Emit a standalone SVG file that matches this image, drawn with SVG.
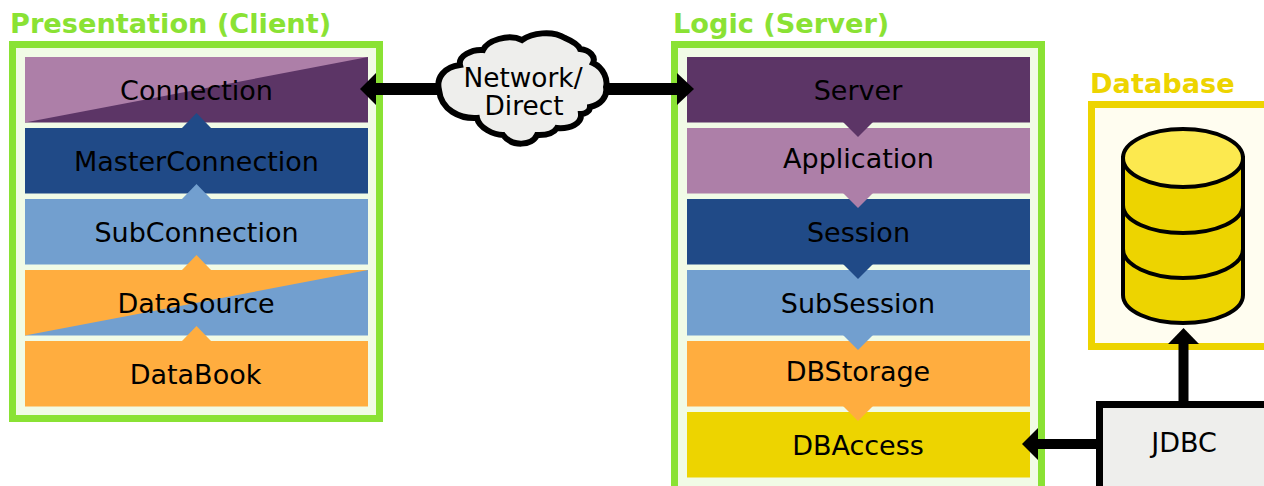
<svg xmlns="http://www.w3.org/2000/svg" width="1264" height="486" viewBox="0 0 1264 486">
<defs>
<style>
text{font-family:"DejaVu Sans",sans-serif;text-anchor:middle;fill:#000}
.lbl{font-size:27px}
.cld{font-size:26.400px}
.ttl{font-size:27.200px;font-weight:bold;text-anchor:start}
.g{fill:#f1fbe6;stroke:#8ae234;stroke-width:7}
.line{fill:none;stroke:#000;stroke-width:10}
.wide{stroke-width:12}
.head{fill:#000;stroke:none}
.pur{fill:#5c3566}.lil{fill:#ad7fa8}.nav{fill:#204a87}.blu{fill:#729fcf}.ora{fill:#ffad3f}.yel{fill:#edd400}
</style>
</defs>
<g id="presentation">
<rect class="g" x="12.500" y="44.500" width="367" height="374"/>
<text class="ttl" x="10" y="33" style="fill:#8ae234">Presentation (Client)</text>
</g>
<g id="connection">
<rect class="pur" x="25" y="57" width="343" height="65.500"/>
<polygon class="lil" points="25,122.500 25,57 368,57"/>
<polygon class="nav" points="182,128 196.500,113 211,128"/>
<text class="lbl" x="196.500" y="100">Connection</text>
</g>
<g id="masterconnection">
<rect class="nav" x="25" y="128" width="343" height="65.500"/>
<polygon class="blu" points="182,199 196.500,184 211,199"/>
<text class="lbl" x="196.500" y="171">MasterConnection</text>
</g>
<g id="subconnection">
<rect class="blu" x="25" y="199" width="343" height="65.500"/>
<polygon class="ora" points="182,270 196.500,255 211,270"/>
<text class="lbl" x="196.500" y="242">SubConnection</text>
</g>
<g id="datasource">
<rect class="blu" x="25" y="270" width="343" height="65.500"/>
<polygon class="ora" points="25,335.500 25,270 368,270"/>
<polygon class="ora" points="182,341 196.500,326 211,341"/>
<text class="lbl" x="196" y="313">DataSource</text>
</g>
<g id="databook">
<rect class="ora" x="25" y="341" width="343" height="65.500"/>
<text class="lbl" x="195.500" y="384">DataBook</text>
</g>
<g id="logic">
<rect class="g" x="674.500" y="44.500" width="367" height="460"/>
<text class="ttl" x="673" y="33" style="fill:#8ae234">Logic (Server)</text>
</g>
<g id="server">
<rect class="pur" x="687" y="57" width="343" height="65.500"/>
<text class="lbl" x="858" y="100">Server</text>
</g>
<g id="application">
<rect class="lil" x="687" y="128" width="343" height="65.500"/>
<polygon class="pur" points="843,122 858,137 873,122"/>
<text class="lbl" x="858.500" y="168">Application</text>
</g>
<g id="session">
<rect class="nav" x="687" y="199" width="343" height="65.500"/>
<polygon class="lil" points="843,193 858,208 873,193"/>
<text class="lbl" x="858.500" y="242">Session</text>
</g>
<g id="subsession">
<rect class="blu" x="687" y="270" width="343" height="65.500"/>
<polygon class="nav" points="843,264 858,279 873,264"/>
<text class="lbl" x="858" y="313">SubSession</text>
</g>
<g id="dbstorage">
<rect class="ora" x="687" y="341" width="343" height="65.500"/>
<polygon class="blu" points="843,335 858,350 873,335"/>
<text class="lbl" x="858" y="381">DBStorage</text>
</g>
<g id="dbaccess">
<rect class="yel" x="687" y="412" width="343" height="65.500"/>
<polygon class="ora" points="843,406 858,421 873,406"/>
<text class="lbl" x="858" y="455">DBAccess</text>
</g>
<g id="database">
<rect x="1091.500" y="104.500" width="200" height="242" fill="#fffdf0" stroke="#edd400" stroke-width="7"/>
<text class="ttl" x="1090" y="93" style="fill:#edd400">Database</text>
<path d="M1123 158 V295 C1123 311 1150 323 1183 323 C1216 323 1243 311 1243 295 V158 Z" fill="#edd400" stroke="#000" stroke-width="4"/>
<ellipse cx="1183" cy="158" rx="60" ry="29" fill="#fce94f" stroke="#000" stroke-width="4"/>
<path d="M1123 205 C1123 221 1150 233 1183 233 C1216 233 1243 221 1243 205 M1123 249 C1123 265 1150 278 1183 278 C1216 278 1243 265 1243 249" fill="none" stroke="#000" stroke-width="4"/>
</g>
<g id="connectors">
<line class="line wide" x1="375" y1="89" x2="445" y2="89"/>
<polygon class="head" points="360,89 376,73 376,105"/>
<line class="line wide" x1="600" y1="89" x2="680" y2="89"/>
<polygon class="head" points="694,89 677,73 677,105"/>
<line class="line" x1="1183.500" y1="340" x2="1183.500" y2="405"/>
<polygon class="head" points="1183.500,328 1168,344 1199,344"/>
<line class="line" x1="1036" y1="444" x2="1100" y2="444"/>
<polygon class="head" points="1022,444 1038,428 1038,460"/>
</g>
<g id="network">
<path d="M439 90 C436 78 444 67 460 65 C458 56 472 49 483 50 C487 41 508 33 522 40 C532 33 552 30 565 38 C572 41 578 44 580 49 C590 50 596 57 593 63 C604 68 608 80 606 87 C608 97 600 105 590 107 C590 112 584 114 581 114 C582 124 570 129 557 128 C552 136 541 135 537 135 C532 146 512 147 503 135 C494 135 479 128 477 118 C460 119 441 110 439 90 Z" fill="#eeeeec" stroke="#000" stroke-width="6"/>
<text class="cld" x="523" y="87">Network/</text>
<text class="cld" x="524" y="115">Direct</text>
</g>
<g id="jdbc">
<rect x="1099.500" y="404.500" width="200" height="120" fill="#eeeeec" stroke="#000" stroke-width="7"/>
<text class="lbl" x="1184" y="452">JDBC</text>
</g>
</svg>
